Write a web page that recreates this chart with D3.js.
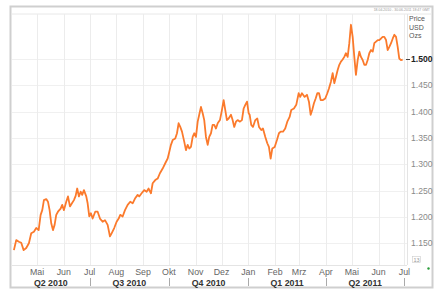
<!DOCTYPE html>
<html><head><meta charset="utf-8">
<script src="https://cdn.jsdelivr.net/npm/d3@7"></script>
<style>body{margin:0;background:#fff;}svg{display:block;font-family:"Liberation Sans",Arial,sans-serif;}</style>
</head><body>
<svg id="c" width="446" height="294"></svg>
<script>
// Days since 2010-05-01 and gold price (thousands USD / oz)
const days = [-26.8,-24.1,-21.0,-18.3,-15.5,-12.5,-9.4,-6.7,-3.6,-0.9,1.9,4.2,6.1,8.0,10.7,12.7,14.6,16.5,18.5,20.4,22.3,24.3,27.4,29.2,31.2,33.9,35.9,38.2,40.5,42.8,44.8,46.6,48.6,50.6,52.4,54.4,57.1,58.7,60.6,62.5,64.5,67.5,70.3,73.0,76.1,78.8,81.9,84.6,86.5,89.5,92.3,94.7,96.5,99.3,102.0,105.1,108.1,110.9,113.6,116.7,118.5,121.3,124.3,127.1,129.4,132.1,134.1,137.1,139.9,142.5,145.7,148.7,151.5,153.0,155.3,157.3,160.3,162.3,164.2,166.1,168.1,170.7,172.7,174.7,176.5,178.5,180.5,182.3,184.3,186.3,188.1,190.1,192.1,193.9,195.9,197.9,199.7,201.7,203.6,205.5,207.5,209.5,212.1,214.4,216.4,218.3,220.2,222.2,224.9,226.8,228.7,230.7,232.6,235.3,237.6,239.6,241.5,243.5,245.4,246.6,248.4,250.4,253.1,255.4,257.4,260.0,262.0,264.7,267.0,268.9,270.9,272.8,275.6,278.2,280.5,282.5,285.2,287.8,290.2,292.9,294.8,297.9,300.6,303.4,305.2,307.2,310.3,313.0,315.3,317.3,319.1,321.1,323.1,325.0,327.0,328.9,331.6,334.2,336.6,338.5,340.8,342.8,344.7,346.6,348.6,350.5,352.4,354.4,356.3,358.2,360.2,362.1,364.0,366.0,367.9,369.8,371.8,373.7,375.6,377.6,379.5,381.5,383.4,385.3,387.3,389.3,391.1,393.1,395.1,396.9,398.9,400.8,402.7,404.7,406.6,408.5,410.5,412.5,414.3,416.3,418.2,420.0,422.0,424.0];
const prices = [1.137,1.156,1.153,1.151,1.137,1.141,1.150,1.169,1.172,1.179,1.175,1.204,1.213,1.232,1.234,1.229,1.213,1.188,1.175,1.185,1.204,1.210,1.216,1.223,1.213,1.229,1.239,1.220,1.226,1.232,1.240,1.254,1.239,1.248,1.242,1.251,1.239,1.226,1.201,1.207,1.197,1.210,1.210,1.197,1.191,1.194,1.185,1.163,1.169,1.179,1.191,1.197,1.204,1.201,1.213,1.223,1.229,1.226,1.235,1.242,1.239,1.245,1.251,1.248,1.254,1.245,1.264,1.270,1.273,1.283,1.292,1.302,1.311,1.321,1.337,1.346,1.349,1.359,1.378,1.371,1.362,1.343,1.327,1.337,1.330,1.333,1.352,1.359,1.352,1.381,1.394,1.409,1.397,1.384,1.352,1.337,1.352,1.359,1.375,1.375,1.368,1.378,1.384,1.403,1.422,1.403,1.384,1.387,1.394,1.384,1.371,1.381,1.384,1.381,1.384,1.406,1.413,1.419,1.397,1.394,1.375,1.371,1.384,1.387,1.371,1.365,1.368,1.352,1.340,1.333,1.311,1.330,1.333,1.346,1.359,1.362,1.362,1.368,1.381,1.390,1.403,1.406,1.413,1.435,1.428,1.435,1.428,1.432,1.419,1.394,1.403,1.416,1.425,1.435,1.435,1.422,1.422,1.425,1.435,1.444,1.457,1.473,1.454,1.466,1.479,1.489,1.495,1.499,1.504,1.511,1.504,1.530,1.565,1.542,1.504,1.470,1.498,1.514,1.504,1.498,1.489,1.489,1.498,1.511,1.517,1.514,1.530,1.533,1.536,1.536,1.539,1.542,1.542,1.536,1.517,1.523,1.530,1.539,1.546,1.542,1.523,1.501,1.498,1.499];
const yTicks = [1.15,1.20,1.25,1.30,1.35,1.40,1.45,1.50];
const yTickLabels = ["1.150","1.200","1.250","1.300","1.350","1.400","1.450","1.500"];
const monthNames = ["Jan","Feb","Mrz","Apr","Mai","Jun","Jul","Aug","Sep","Okt","Nov","Dez"];
const quarterLabels = ["Q2 2010","Q3 2010","Q4 2010","Q1 2011","Q2 2011"];
const unitLabels = ["Price","USD","Ozs"];
const lastPrice = 1.500;

const base = new Date(2010,4,1);
const toDate = d => new Date(base.getTime() + d*864e5);
const data = days.map((d,i)=>({date:toDate(d), v:prices[i]}));

const svg = d3.select("#c");
const L=12, R=407, T=14, B=265;
const x = d3.scaleTime().domain([new Date(2010,3,2), new Date(2011,6,4)]).range([L,R]);
const y = d3.scaleLinear().domain([1.15,1.50]).range([243.3,59]);

// frame
svg.append("rect").attr("x",10.5).attr("y",6.5).attr("width",422).attr("height",281)
  .attr("fill","#fff").attr("stroke","#cfcfcf").attr("stroke-width",2);
svg.append("text").attr("x",430).attr("y",11).attr("text-anchor","end")
  .attr("font-size",3.5).attr("fill","#999").text("18.04.2010 - 30.06.2011 18:47 GMT");

// plot area border top
svg.append("line").attr("x1",L).attr("x2",432).attr("y1",T).attr("y2",T).attr("stroke","#e8e8e8");

// horizontal grid
svg.append("g").selectAll("line").data(yTicks).join("line")
  .attr("x1",L).attr("x2",R).attr("y1",d=>Math.round(y(d))+0.5).attr("y2",d=>Math.round(y(d))+0.5)
  .attr("stroke","#f0f0f0");
// vertical grid
const months = d3.timeMonth.range(new Date(2010,4,1), new Date(2011,6,2));
svg.append("g").selectAll("line").data(months).join("line")
  .attr("x1",d=>Math.round(x(d))+0.5).attr("x2",d=>Math.round(x(d))+0.5).attr("y1",T).attr("y2",B)
  .attr("stroke","#ececec");
// bottom and right axis lines
svg.append("line").attr("x1",L).attr("x2",R).attr("y1",B+0.5).attr("y2",B+0.5).attr("stroke","#e4e4e4");
svg.append("line").attr("x1",R+0.5).attr("x2",R+0.5).attr("y1",T).attr("y2",B).attr("stroke","#e4e4e4");

// line
svg.append("path").datum(data)
  .attr("d", d3.line().x(d=>x(d.date)).y(d=>y(d.v)))
  .attr("fill","none").attr("stroke","#fb7a2c").attr("stroke-width",1.8).attr("stroke-linejoin","round");

// right axis labels
svg.append("g").selectAll("text").data(yTicks).join("text")
  .attr("x",411).attr("y",d=>y(d)+3)
  .attr("font-size",8.6)
  .attr("fill",d=>Math.abs(d-lastPrice)<1e-9?"#222":"#8a8a8a")
  .attr("font-weight",d=>Math.abs(d-lastPrice)<1e-9?"bold":"normal")
  .text((d,i)=>yTickLabels[i]);
svg.append("line").attr("x1",406).attr("x2",410).attr("y1",y(lastPrice)+0.5).attr("y2",y(lastPrice)+0.5).attr("stroke","#444");
svg.append("g").selectAll("text").data(unitLabels).join("text")
  .attr("x",409).attr("y",(d,i)=>21+i*8.5).attr("font-size",7).attr("fill","#555").text(d=>d);

// month labels
svg.append("g").selectAll("text").data(months).join("text")
  .attr("x",d=>x(d)).attr("y",275).attr("text-anchor","middle")
  .attr("font-size",8.8).attr("fill","#666").text(d=>monthNames[d.getMonth()]);

// quarters
const qStarts = [new Date(2010,3,1),new Date(2010,6,1),new Date(2010,9,1),new Date(2011,0,1),new Date(2011,3,1),new Date(2011,6,1)];
const clampX = d => Math.max(L, Math.min(R, x(d)));
svg.append("g").selectAll("text").data(quarterLabels).join("text")
  .attr("x",(d,i)=>(clampX(qStarts[i])+clampX(qStarts[i+1]))/2).attr("y",285.5).attr("text-anchor","middle")
  .attr("font-size",8.8).attr("font-weight","bold").attr("fill","#333").text(d=>d);
svg.append("g").selectAll("line").data(qStarts.slice(1)).join("line")
  .attr("x1",d=>Math.round(x(d))+0.5).attr("x2",d=>Math.round(x(d))+0.5).attr("y1",278).attr("y2",286)
  .attr("stroke","#aaa");

// small corner items
svg.append("rect").attr("x",412.5).attr("y",256.5).attr("width",8).attr("height",6).attr("fill","#fff").attr("stroke","#ccc").attr("stroke-width",0.6);
svg.append("text").attr("x",416.5).attr("y",261.5).attr("text-anchor","middle").attr("font-size",5.5).attr("fill","#999").text("13");
svg.append("circle").attr("cx",428.5).attr("cy",268.5).attr("r",1.2).attr("fill","#2a9d3a");
</script>
</body></html>
